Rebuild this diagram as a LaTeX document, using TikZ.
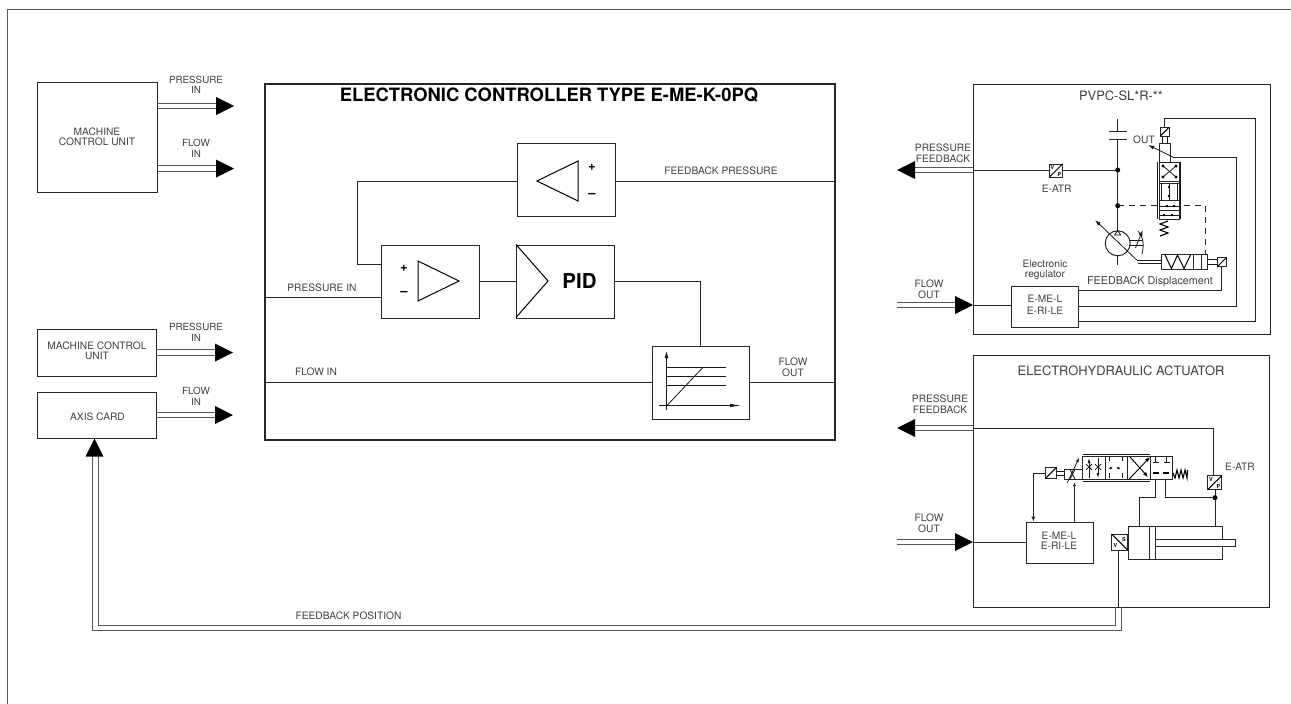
\documentclass[tikz,border=0pt]{standalone}
\usepackage{fontspec}
\setmainfont{TeX Gyre Heros}
\usetikzlibrary{arrows.meta}
\newcommand{\lbl}{\fontsize{10.2}{11}\selectfont}
\tikzset{
  x=1pt,y=-1pt,
  ln/.style={draw=black!85,line width=1pt},
  boxx/.style={draw=black!85,line width=1.2pt,inner sep=0pt,anchor=north west},
  txt/.style={inner sep=0pt,align=center,text=black!75,font=\lbl},
  smalltxt/.style={inner sep=0pt,align=center,text=black!75,font=\fontsize{9.8}{10}\selectfont},
  headtxt/.style={inner sep=0pt,align=center,text=black!75,font=\fontsize{12.9}{13}\selectfont},
  signtxt/.style={inner sep=0pt,font=\bfseries\fontsize{13}{13}\selectfont},
  tinytxt/.style={inner sep=0pt,font=\bfseries\fontsize{5.5}{6}\selectfont},
  dbl/.style={draw=black!65,line width=0.9pt},
  conv/.style={draw=black!85,line width=1pt,fill=white},
  dotn/.style={circle,fill=black,inner sep=0pt,minimum size=5pt},
  fine/.style={line width=0.8pt,draw=black!90},
}
\newcommand{\dblR}[3]{%
  \draw[dbl] (#1,#3-2.8) -- (#2-18,#3-2.8); \draw[dbl] (#1,#3+2.8) -- (#2-18,#3+2.8);
  \fill (#2-18,#3-9) -- (#2,#3) -- (#2-18,#3+9) -- cycle;}
\newcommand{\conv}[3]{%
  \draw[conv] (#1-#3,#2-#3) rectangle (#1+#3,#2+#3);
  \draw[line width=1pt] (#1-#3,#2+#3) -- (#1+#3,#2-#3);}
\begin{document}
\begin{tikzpicture}
\useasboundingbox (0,0) rectangle (1291,704);
\fill[white] (0,0) rectangle (1291,704);
\draw[black!65,line width=1pt] (7,704) -- (7,9.5) -- (1291,9.5);

% left boxes
\node[boxx,minimum width=120pt,minimum height=110pt] (mcu1) at (37,82) {};
\node[txt] at (97,132) {MACHINE};
\node[txt] at (97,142) {CONTROL UNIT};
\node[boxx,minimum width=119pt,minimum height=47pt] (mcu2) at (37,329) {};
\node[txt] at (97,346) {MACHINE CONTROL};
\node[txt] at (97,356) {UNIT};
\node[boxx,minimum width=119pt,minimum height=46pt] (axis) at (37,392) {};
\node[txt] at (97.5,417) {AXIS CARD};
\dblR{157}{234}{106}
\dblR{157}{234}{168.5}
\dblR{156}{233}{352.5}
\dblR{156}{233}{415}
\node[smalltxt] at (196,79.5) {PRESSURE};
\node[smalltxt] at (196,89.5) {IN};
\node[smalltxt] at (196,143) {FLOW};
\node[smalltxt] at (196,154) {IN};
\node[smalltxt] at (196,327) {PRESSURE};
\node[smalltxt] at (196,338) {IN};
\node[smalltxt] at (196,391) {FLOW};
\node[smalltxt] at (196,402) {IN};

% controller
\node[boxx,line width=2pt,minimum width=570pt,minimum height=356pt] (ctl) at (264,82.5) {};
\node[inner sep=0pt,font=\fontsize{18.4}{19}\selectfont\bfseries] at (549,95) {ELECTRONIC CONTROLLER TYPE E-ME-K-0PQ};

\node[boxx,minimum width=98pt,minimum height=73pt] (fb) at (517,143) {};
\draw[line width=1pt] (578,161) -- (537,181) -- (578,201) -- cycle;
\node[signtxt] at (592,167) {+};
\node[signtxt] at (592,195) {--};
\node[boxx,minimum width=98pt,minimum height=73pt] (sum) at (381,244.5) {};
\draw[line width=1pt] (418,261) -- (459,281) -- (418,301) -- cycle;
\node[signtxt] at (404,268) {+};
\node[signtxt] at (404,293) {--};
\node[boxx,minimum width=98pt,minimum height=73pt] (pid) at (516,244.5) {};
\draw[line width=1pt] (516,244.5) -- (548,281) -- (516,317.5);
\node[inner sep=0pt,font=\bfseries\fontsize{20.5}{21}\selectfont] at (579.5,281) {PID};
\node[boxx,minimum width=97pt,minimum height=73pt] (lim) at (651.5,345.5) {};
\draw[fine,-{Latex[length=7pt,width=4pt]}] (666.5,410) -- (666.5,351);
\draw[fine,-{Latex[length=11pt,width=3.5pt]}] (659,405.5) -- (741,405.5);
\draw[fine] (667,367.3) -- (726,367.3);
\draw[fine] (667,376) -- (726,376);
\draw[fine] (667,385) -- (726,385);
\draw[fine] (667,405.5) -- (703,367.3);
\draw[ln] (615,181) -- (834,181);
\draw[ln] (517,181) -- (357.3,181) -- (357.3,264.5) -- (381,264.5);
\draw[ln] (264,297) -- (381,297);
\draw[ln] (479,281) -- (516,281);
\draw[ln] (614,281) -- (700,281) -- (700,345.5);
\draw[ln] (264,382.3) -- (651.5,382.3);
\draw[ln] (748.5,382.3) -- (834,382.3);
\node[txt] at (721,171) {FEEDBACK PRESSURE};
\node[txt] at (322,288) {PRESSURE IN};
\node[txt] at (316,372) {FLOW IN};
\node[txt] at (793,362) {FLOW};
\node[txt] at (793,373) {OUT};

% === PVPC box ===
\node[boxx,line width=1.1pt,minimum width=296.5pt,minimum height=250.5pt] (pvpc) at (973,83.5) {};
\node[headtxt] at (1121,96) {PVPC-SL*R-**};
\fill (897,170) -- (915,161) -- (915,179) -- cycle;
\draw[dbl] (915,167.2) -- (973,167.2); \draw[dbl] (915,172.8) -- (973,172.8);
\node[txt] at (943,148) {PRESSURE};
\node[txt] at (943,159) {FEEDBACK};
\draw[ln] (973,170) -- (1049,170);
\draw[ln] (1063,170) -- (1117.7,170);
\conv{1056}{170.5}{6.5}
\node[tinytxt] at (1052.5,167) {V};
\node[tinytxt] at (1059.5,174) {P};
\node[txt] at (1056.7,188.3) {E-ATR};
\draw[ln] (1117.7,119.3) -- (1117.7,131.7);
\draw[ln] (1109,131.7) -- (1126.7,131.7);
\draw[ln] (1109,139.3) -- (1126.7,139.3);
\draw[ln] (1117.7,139.3) -- (1117.7,231);
\node[dotn] at (1117.7,170) {};
\node[dotn] at (1117.7,205.7) {};
\node[txt] at (1144,139.3) {OUT};
% pump
\draw[ln] (1117.7,243.3) circle[radius=12.5];
\draw[ln] (1117.7,255.8) -- (1117.7,265);
\draw[fine] (1114.7,235) -- (1117.7,230.5) -- (1120.7,235) -- cycle;
\draw[fine,-{Latex[length=6pt,width=4pt]}] (1136.7,260) -- (1095,220);
\draw[fine] (1136.7,260) -- (1161,260);
\draw[fine] (1137.5,263.3) -- (1161,263.3);
\draw[fine] (1129,240) -- (1142.7,240) (1129,245) -- (1142.7,245);
\draw[fine,-{Latex[length=6pt,width=4pt]}] (1135.5,248) -- (1142.7,230);
\draw[fine] (1138,231) .. controls (1144,238) and (1144,246) .. (1142,254);
% feedback cylinder
\draw[conv] (1161.5,254) rectangle (1207.7,269.5);
\draw[ln] (1193,254) -- (1193,269.5) (1201,254) -- (1201,269.5);
\draw[line width=1pt] (1165,255) -- (1171.5,268.5) -- (1177.5,255) -- (1184,268.5) -- (1190.5,255);
\draw[fine] (1207.7,259.5) -- (1217.7,259.5) (1207.7,264) -- (1217.7,264);
\conv{1222}{262}{4.5}
% dashed
\draw[line width=1pt,draw=black!85,dash pattern=on 6pt off 5pt] (1117.7,205.7) -- (1205,205.7) -- (1205,254);
% valve
\draw[conv] (1159.5,143.3) rectangle (1170.7,162.3);
\draw[fine] (1162.3,143.3) -- (1162.3,135.7) (1167.3,143.3) -- (1167.3,135.7);
\conv{1164.7}{131.7}{4.3}
\draw[ln] (1164.7,127.4) -- (1164.7,118.3) -- (1255,118.3) -- (1255,321) -- (1078,321);
\draw[ln] (1173.3,157.3) -- (1236,157.3) -- (1236,306.7) -- (1078,306.7);
\draw[ln] (1221.7,266.5) -- (1221.7,290.7) -- (1078,290.7);
\draw[fine,-{Latex[length=6pt,width=4pt]}] (1173.3,157.3) -- (1148.3,145);
\draw[conv] (1159.3,162.3) rectangle (1179,219.3);
\draw[fine] (1157.3,162.3) -- (1157.3,219.3) (1180.7,162.3) -- (1180.7,219.3);
\draw[ln] (1159.3,181) -- (1179,181) (1159.3,183) -- (1179,183) (1159.3,200) -- (1179,200) (1159.3,210) -- (1179,210);
\draw[fine] (1163,166) -- (1176,177) (1163,177) -- (1176,166);
\fill (1163,166) circle[radius=1.6] (1176,166) circle[radius=1.6] (1163,177) circle[radius=1.6] (1176,177) circle[radius=1.6];
\draw[fine] (1161,183) -- (1161,200) (1169,183) -- (1169,200) (1177,183) -- (1177,200);
\fill (1169,187) circle[radius=1.3] (1169,196) circle[radius=1.3];
\draw[fine] (1159.3,206) -- (1179,206);
\draw[fine] (1159.3,215) -- (1179,215);
\fill (1167,206) circle[radius=1.4] (1174,206) circle[radius=1.4] (1164,215) circle[radius=1.4] (1172,215) circle[radius=1.4];
\draw[line width=1.1pt] (1168,221) -- (1160,224) -- (1168,227) -- (1160,230) -- (1168,233) -- (1160,236);
% regulator
\node[boxx,minimum width=67pt,minimum height=41.5pt] (reg1) at (1011,285.7) {};
\node[txt] at (1045,299) {E-ME-L};
\node[txt] at (1045,310.7) {E-RI-LE};
\node[txt] at (1045,264.3) {Electronic};
\node[txt] at (1045,275) {regulator};
\node[txt,font=\fontsize{10.8}{11}\selectfont] at (1150,281.7) {FEEDBACK Displacement};
\dblR{897}{973}{305}
\node[txt] at (929,284) {FLOW};
\node[txt] at (929,295) {OUT};
\draw[ln] (973,305) -- (1011,305);

% === Actuator box ===
\node[boxx,minimum width=296.3pt,minimum height=251.7pt] (act) at (972.7,355) {};
\node[headtxt] at (1121,371) {ELECTROHYDRAULIC ACTUATOR};
\fill (897,428) -- (915,419) -- (915,437) -- cycle;
\draw[dbl] (915,425.2) -- (973,425.2); \draw[dbl] (915,430.8) -- (973,430.8);
\node[txt] at (940,399) {PRESSURE};
\node[txt] at (940,410) {FEEDBACK};
\draw[ln] (973,428.3) -- (1213.5,428.3) -- (1213.5,476);
\conv{1214.7}{482.7}{6.8}
\node[tinytxt] at (1211,479) {V};
\node[tinytxt] at (1218.5,486.5) {P};
\node[txt] at (1240,466.7) {E-ATR};
\draw[ln] (1215,489.5) -- (1215,526);
\node[dotn] at (1215,497.7) {};
\draw[ln] (1165.7,479.3) -- (1165.7,497.7) -- (1215,497.7);
\draw[ln] (1155.7,479.3) -- (1155.7,497.5) -- (1139.3,497.5) -- (1139.3,526);
% valve block
\draw[conv] (1082.7,456) rectangle (1172.7,479.3);
\draw[fine] (1083,454.3) -- (1149.5,454.3) (1083,481.5) -- (1149.5,481.5);
\draw[ln] (1105,456) -- (1105,479.3) (1127.5,456) -- (1127.5,479.3) (1150,456) -- (1150,479.3);
\draw[line width=0.9pt,{Latex[length=5pt,width=4pt]}-] (1150,457) -- (1129,479.3);
\draw[line width=0.9pt,-{Latex[length=5pt,width=4pt]}] (1130,457) -- (1148,477);
\draw[fine,-{Latex[length=5pt,width=3pt]}] (1098,458) -- (1098,478);
\draw[fine,{Latex[length=5pt,width=3pt]}-] (1089,458) -- (1089,478);
\draw[line width=0.7pt] (1086,464) -- (1088.7,467) -- (1086,470) (1092,464) -- (1089.3,467) -- (1092,470);
\draw[line width=0.7pt] (1095,464) -- (1097.7,467) -- (1095,470) (1101,464) -- (1098.3,467) -- (1101,470);
\draw[fine] (1109.5,457) -- (1109.5,461) (1122,457) -- (1122,461) (1109.5,478) -- (1109.5,473) (1122,478) -- (1122,473);
\draw[fine,-{Latex[length=3pt,width=3pt]}] (1109,468) -- (1113,468);
\draw[fine,-{Latex[length=3pt,width=3pt]}] (1120,468) -- (1116,468);
\draw[fine] (1155.7,457) -- (1155.7,462) (1153,462) -- (1158.5,462) (1166.7,457) -- (1166.7,462) (1164,462) -- (1169.5,462);
\draw[line width=1.3pt] (1153,473) -- (1158.5,473) (1163,473) -- (1168.5,473);
\draw[line width=1.1pt] (1173,473) -- (1175,478) -- (1177,470) -- (1179,478) -- (1181,470) -- (1183,478) -- (1185,470) -- (1187,478) -- (1187.5,470);
% solenoid
\draw[conv] (1064,469.3) rectangle (1082.7,479.3);
\draw[fine] (1070,469.5) -- (1075,479) (1075,469.5) -- (1070,479);
\draw[fine,-{Latex[length=5pt,width=3pt]}] (1067.3,482.7) -- (1079.3,457.3);
\draw[fine] (1056.5,471.5) -- (1064,471.5) (1056.5,475.3) -- (1064,475.3);
\conv{1051}{472.8}{5.5}
\draw[ln] (1045.5,473) -- (1033.3,473);
\draw[ln,-{Latex[open,length=5pt,width=4pt]}] (1033.3,473) -- (1033.3,521.7);
\draw[ln,-{Latex[length=4pt,width=3pt]}] (1074.5,521.7) -- (1074.5,482);
\node[boxx,minimum width=67pt,minimum height=41.5pt] (reg2) at (1026,521.7) {};
\node[txt] at (1059,535.7) {E-ME-L};
\node[txt] at (1059,545.7) {E-RI-LE};
\dblR{897}{973}{542}
\node[txt] at (929,518) {FLOW};
\node[txt] at (929,529) {OUT};
\draw[ln] (973,542) -- (1026,542);
% cylinder
\node[boxx,minimum width=94pt,minimum height=33pt] (cyl) at (1127.7,526) {};
\draw[ln] (1149,526) -- (1149,559) (1155.7,526) -- (1155.7,559);
\draw[conv] (1155.7,539) rectangle (1235.7,546.7);
\draw[conv] (1111.7,534) rectangle (1127.7,550);
\draw[line width=1pt] (1111.7,534) -- (1127.7,550);
\node[tinytxt] at (1115.5,545.5) {V};
\node[tinytxt] at (1124,539) {S};
% feedback position
\draw[ln] (1118,550) -- (1118,607);
\draw[dbl] (1115.7,607) -- (1115.7,625.5) -- (98,625.5) -- (98,456);
\draw[dbl] (1121.7,607) -- (1121.7,630.5) -- (92,630.5) -- (92,456);
\fill (94.5,438.5) -- (103.5,456.5) -- (85.5,456.5) -- cycle;
\node[txt] at (348.5,616) {FEEDBACK POSITION};
\end{tikzpicture}
\end{document}
